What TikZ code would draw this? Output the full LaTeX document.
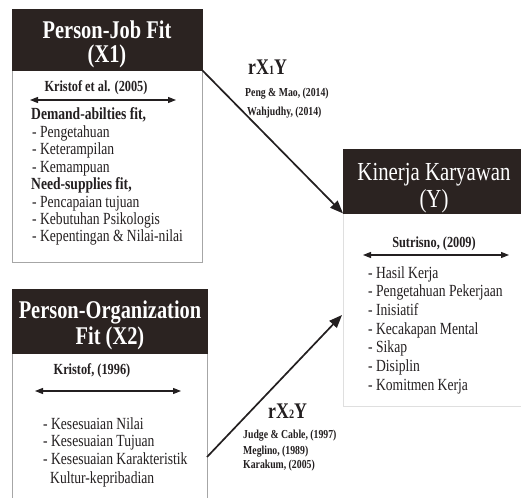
\documentclass[tikz,border=0pt]{standalone}
\usepackage{fontspec}
\setmainfont{Liberation Serif}[FakeStretch=0.8]
\usetikzlibrary{arrows.meta}
\definecolor{hdr}{HTML}{2B2321}
\definecolor{txt}{HTML}{231F20}
\begin{document}
\begin{tikzpicture}[x=1pt,y=-1pt,
  hdrbox/.style={fill=hdr,draw=hdr,anchor=north west,inner sep=0pt},
  bodybox/.style={draw=#1,fill=white,anchor=north west,inner sep=0pt,line width=0.8pt},
  titletext/.style={text=white,anchor=base,inner sep=0pt,font=\bfseries\fontsize{25.5}{25}\selectfont},
  ytitle/.style={text=white,anchor=base,inner sep=0pt,font=\fontsize{26}{26}\selectfont},
  reftext/.style={text=txt,anchor=base,inner sep=0pt,font=\bfseries\fontsize{15.4}{16}\selectfont},
  itemtext/.style={text=txt,anchor=base west,inner sep=0pt,font=\fontsize{17}{18}\selectfont},
  itembold/.style={text=txt,anchor=base west,inner sep=0pt,font=\bfseries\fontsize{17}{18}\selectfont},
  smalltext/.style={text=txt,anchor=base west,inner sep=0pt,font=\bfseries\fontsize{12.2}{13}\selectfont},
  rlabel/.style={text=txt,anchor=base west,inner sep=0pt,font=\bfseries\fontsize{22.3}{22}\selectfont},
  dblarrow/.style={draw=txt,line width=1.1pt,{Triangle[length=8pt,width=6pt]}-{Triangle[length=8pt,width=6pt]}},
  mainarrow/.style={draw=txt,line width=1.7pt,-{Triangle[length=13pt,width=10pt]}}
]
\useasboundingbox[fill=white] (0,0) rectangle (521,497);

% ---------- X1 box ----------
\node[bodybox=gray!70, minimum width=190pt, minimum height=192pt] (b1) at (12,70) {};
\node[hdrbox, minimum width=190pt, minimum height=61pt] (h1) at (12,9) {};
\node[titletext] (t1a) at (107,39) {Person-Job Fit};
\node[titletext] (t1b) at (107,63) {(X1)};
\node[reftext] (r1) at (96,92) {Kristof et al. (2005)};
\coordinate (a1l) at (30,100);
\coordinate (a1r) at (176,100);
\draw[dblarrow] (a1l) -- (a1r);
\node[itembold] (i11) at (31,120) {Demand-abilties fit,};
\node[itemtext] (i12) at (32,137.4) {- Pengetahuan};
\node[itemtext] (i13) at (32,154.8) {- Keterampilan};
\node[itemtext] (i14) at (32,172.2) {- Kemampuan};
\node[itembold] (i15) at (31,189.6) {Need-supplies fit,};
\node[itemtext] (i16) at (32,207) {- Pencapaian tujuan};
\node[itemtext] (i17) at (32,224.4) {- Kebutuhan Psikologis};
\node[itemtext] (i18) at (32,241.8) {- Kepentingan \& Nilai-nilai};

% ---------- X2 box ----------
\draw[draw=gray!70,line width=0.8pt] (12,498) -- (12,353) -- (207,353) -- (207,498);
\node[hdrbox, minimum width=195pt, minimum height=64pt] (h2) at (12,289) {};
\node[titletext] (t2a) at (110,318) {Person-Organization};
\node[titletext] (t2b) at (110,344) {Fit (X2)};
\node[reftext] (r2) at (92,374) {Kristof, (1996)};
\coordinate (a2l) at (35,391);
\coordinate (a2r) at (181,391);
\draw[dblarrow] (a2l) -- (a2r);
\node[itemtext] (i21) at (43,429) {- Kesesuaian Nilai};
\node[itemtext] (i22) at (43,446.5) {- Kesesuaian Tujuan};
\node[itemtext] (i23) at (43,464) {- Kesesuaian Karakteristik};
\node[itemtext] (i24) at (50,483) {Kultur-kepribadian};

% ---------- Y box ----------
\node[bodybox=gray!25, minimum width=179pt, minimum height=193pt] (b3) at (343,213) {};
\node[hdrbox, minimum width=178pt, minimum height=64pt] (h3) at (343,149) {};
\node[ytitle] (t3a) at (434,180) {Kinerja Karyawan};
\node[ytitle] (t3b) at (434,207) {(Y)};
\node[reftext] (r3) at (434,247) {Sutrisno, (2009)};
\coordinate (a3l) at (363,255);
\coordinate (a3r) at (509,255);
\draw[dblarrow] (a3l) -- (a3r);
\node[itemtext] (i31) at (368,278) {- Hasil Kerja};
\node[itemtext] (i32) at (368,296.7) {- Pengetahuan Pekerjaan};
\node[itemtext] (i33) at (368,315.3) {- Inisiatif};
\node[itemtext] (i34) at (368,334) {- Kecakapan Mental};
\node[itemtext] (i35) at (368,352.7) {- Sikap};
\node[itemtext] (i36) at (368,371.3) {- Disiplin};
\node[itemtext] (i37) at (368,390) {- Komitmen Kerja};

% ---------- connectors ----------
\draw[mainarrow] (h1.south east) -- (h3.south west);
\coordinate (s2) at (207,457);
\coordinate (e2) at (342,315);
\draw[mainarrow] (s2) -- (e2);

% ---------- labels ----------
\node[rlabel] (rx1) at (248,75) {rX{\fontsize{12.75}{13}\selectfont 1}Y};
\node[smalltext] (p1) at (245,97) {Peng \& Mao, (2014)};
\node[smalltext] (p2) at (247,116) {Wahjudhy, (2014)};
\node[rlabel] (rx2) at (268,418) {rX{\fontsize{12.75}{13}\selectfont 2}Y};
\node[smalltext] (q1) at (243,438) {Judge \& Cable, (1997)};
\node[smalltext] (q2) at (243,454) {Meglino, (1989)};
\node[smalltext] (q3) at (243,468) {Karakum, (2005)};
\end{tikzpicture}
\end{document}
